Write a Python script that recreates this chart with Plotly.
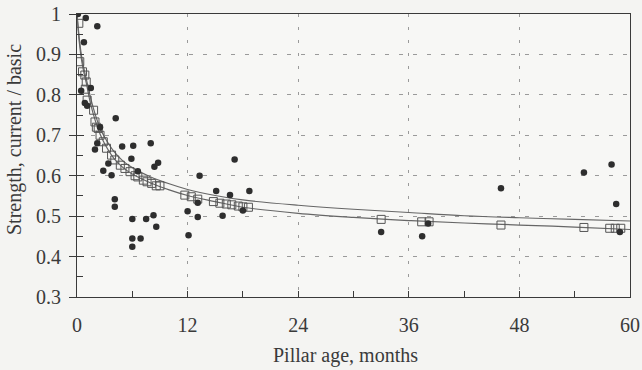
import plotly.graph_objects as go

# Observed data (filled dots): age in months, strength ratio
obs_x = [0.1, 0.95, 2.2, 0.75, 0.45, 1.5, 0.85, 1.1, 4.2, 2.5, 1.95, 2.2, 4.9, 6.1, 8.0,
         5.9, 3.4, 8.8, 8.4, 2.85, 3.75, 6.6, 13.3, 17.1, 15.1, 18.7, 16.6, 4.1, 4.1, 12.0,
         15.8, 18.0, 13.1, 6.0, 7.5, 8.3, 8.6, 12.1, 6.0, 6.9, 6.0, 13.1, 33.0, 37.45, 38.1,
         46.0, 55.0, 58.0, 58.5, 58.9]
obs_y = [1.0, 0.99, 0.97, 0.93, 0.81, 0.817, 0.78, 0.773, 0.742, 0.72, 0.665, 0.68, 0.672, 0.674, 0.68,
         0.642, 0.63, 0.632, 0.622, 0.612, 0.601, 0.611, 0.60, 0.64, 0.562, 0.562, 0.552, 0.542, 0.523, 0.512,
         0.501, 0.514, 0.498, 0.493, 0.493, 0.502, 0.474, 0.453, 0.445, 0.445, 0.424, 0.533, 0.461, 0.45, 0.482,
         0.569, 0.608, 0.628, 0.530, 0.461]

# Calculated points (open squares)
calc_x = [0.2, 0.3, 0.6, 0.85, 1.0, 0.9, 1.1, 1.8, 1.95, 2.1, 2.3, 2.5, 2.85, 3.2, 3.75, 4.1, 4.7,
          5.2, 5.75, 6.3, 6.6, 7.2, 7.6, 8.1, 8.6, 9.0, 11.7, 12.4, 13.1, 14.8, 15.5, 16.2, 16.8,
          17.5, 18.0, 18.6, 33.0, 37.4, 38.2, 46.0, 55.0, 57.8, 58.4, 59.0]
calc_y = [0.977, 0.882, 0.857, 0.849, 0.832, 0.814, 0.787, 0.762, 0.733, 0.72, 0.717, 0.70, 0.684, 0.668,
          0.651, 0.639, 0.626, 0.618, 0.61, 0.60, 0.597, 0.589, 0.585, 0.581, 0.575, 0.575, 0.552, 0.548,
          0.542, 0.536, 0.532, 0.53, 0.528, 0.525, 0.523, 0.522, 0.492, 0.486, 0.486, 0.478, 0.472, 0.47,
          0.47, 0.47]

# Curves
curve_x = [0, 0.25, 0.5, 0.75, 1, 1.5, 2, 2.5, 3, 4, 5, 6, 8, 10, 12, 15, 18, 24, 30, 36, 42, 48, 54, 60]
lower_y = [1.0, 0.93, 0.885, 0.855, 0.83, 0.775, 0.735, 0.703, 0.679, 0.643, 0.62, 0.604, 0.582, 0.565,
           0.551, 0.536, 0.522, 0.507, 0.497, 0.489, 0.483, 0.478, 0.473, 0.467]
upper_y = [1.0, 0.94, 0.895, 0.865, 0.84, 0.79, 0.75, 0.718, 0.695, 0.66, 0.636, 0.62, 0.597, 0.58,
           0.566, 0.551, 0.54, 0.527, 0.517, 0.509, 0.501, 0.496, 0.492, 0.488]

x_ticks = [0, 12, 24, 36, 48, 60]
y_ticks = [0.3, 0.4, 0.5, 0.6, 0.7, 0.8, 0.9, 1.0]
y_tick_text = ["0.3", "0.4", "0.5", "0.6", "0.7", "0.8", "0.9", "1"]

FONT = "Liberation Serif, Times New Roman, serif"
INK = "#3a3a3a"
LINE = "#666666"

fig = go.Figure()
fig.add_trace(go.Scatter(x=curve_x, y=upper_y, mode="lines", line=dict(color=LINE, width=1.2, shape="spline"),
                         showlegend=False, hoverinfo="skip"))
fig.add_trace(go.Scatter(x=curve_x, y=lower_y, mode="lines", line=dict(color=LINE, width=1.2, shape="spline"),
                         showlegend=False, hoverinfo="skip"))
fig.add_trace(go.Scatter(x=calc_x, y=calc_y, mode="markers",
                         marker=dict(symbol="square-open", size=8, color="#555555", line=dict(width=1)),
                         showlegend=False))
fig.add_trace(go.Scatter(x=obs_x, y=obs_y, mode="markers",
                         marker=dict(symbol="circle", size=6.5, color="#2e2e2e"),
                         showlegend=False, xaxis="x2", yaxis="y2"))

fig.update_layout(
    width=642, height=370,
    margin=dict(l=77, r=12, t=14, b=73, autoexpand=False),
    paper_bgcolor="#f4f4f2", plot_bgcolor="#f7f7f5",
    font=dict(family=FONT, size=20, color=INK),
    xaxis=dict(range=[0, 60], tickvals=x_ticks, ticks="inside", ticklen=6, tickcolor=INK,
               minor=dict(dtick=6, ticks="inside", ticklen=6, tickcolor=INK),
               showline=True, linecolor=INK, linewidth=1.2, mirror=True, automargin=False,
               showgrid=True, gridcolor="#9a9a9a", gridwidth=1, griddash="3px,10px",
               zeroline=False, ticklabelstandoff=10, tickfont=dict(size=20, family=FONT, color=INK)),
    yaxis=dict(range=[0.3, 1.0], tickvals=y_ticks, ticktext=y_tick_text, ticks="outside", ticklen=7,
               tickcolor=INK, showline=True, linecolor=INK, linewidth=1.2, mirror=True, automargin=False,
               showgrid=True, gridcolor="#9a9a9a", gridwidth=1, griddash="4px,10px",
               zeroline=False, ticklabelstandoff=4, tickfont=dict(size=20, family=FONT, color=INK)),
    xaxis2=dict(range=[0, 60], overlaying="x", showgrid=False, showticklabels=False, ticks="",
                zeroline=False, showline=False, automargin=False),
    yaxis2=dict(range=[0.3, 1.0], overlaying="y", tickvals=y_ticks, showgrid=False, showticklabels=False,
                ticks="inside", ticklen=7, tickcolor=INK, automargin=False,
                minor=dict(dtick=0.05, ticks="inside", ticklen=6, tickcolor=INK),
                zeroline=False, showline=False),
    annotations=[
        dict(text="Strength, current / basic", textangle=-90, xref="paper", yref="paper",
             x=-0.112, y=0.555, xanchor="center", yanchor="middle", showarrow=False,
             font=dict(size=20, family=FONT, color=INK)),
        dict(text="Pillar age, months", xref="paper", yref="paper", x=0.485, y=-0.205,
             xanchor="center", yanchor="middle", showarrow=False,
             font=dict(size=20, family=FONT, color=INK)),
    ],
)

fig.write_html("out.html")
